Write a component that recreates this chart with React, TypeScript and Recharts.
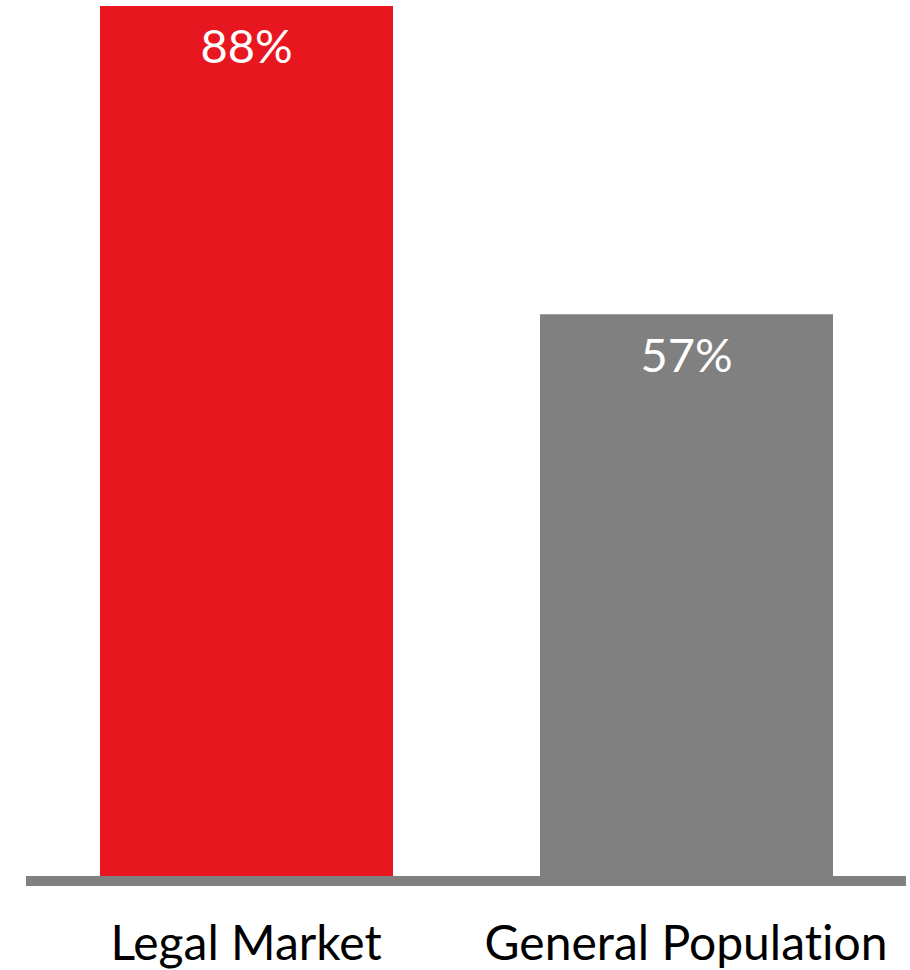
import React from 'react';
import { BarChart, Bar, XAxis, YAxis, Cell, LabelList } from 'recharts';

// Share of respondents, legal market vs. general population
const categories = ['Legal Market', 'General Population'];
const shares = [88, 57];
const barColors = ['#E8171F', '#808080'];

const data = categories.map((name, i) => ({ name, value: shares[i] }));

export default function App() {
  return (
    <div
      style={{
        position: 'absolute',
        left: 0,
        top: 0,
        fontFamily: 'Lato',
        fontVariantLigatures: 'none',
      }}
    >
      <BarChart
        width={910}
        height={970}
        data={data}
        margin={{ top: 6, right: 4, left: 26, bottom: 0 }}
      >
        <YAxis hide domain={[0, 88]} />
        <Bar dataKey="value" barSize={293} isAnimationActive={false}>
          {data.map((d, i) => (
            <Cell key={d.name} fill={barColors[i]} />
          ))}
          <LabelList
            dataKey="value"
            position="insideTop"
            offset={24}
            formatter={(v: number) => `${v}%`}
            style={{ fill: '#fff', fontSize: 47, fontFamily: 'Lato' }}
          />
        </Bar>
        <XAxis
          dataKey="name"
          height={89}
          tickLine={false}
          tickSize={0}
          tickMargin={45}
          axisLine={{ stroke: '#808080', strokeWidth: 10 }}
          tick={{ fill: '#000', fontSize: 48, fontFamily: 'Lato' }}
          interval={0}
        />
      </BarChart>
    </div>
  );
}
